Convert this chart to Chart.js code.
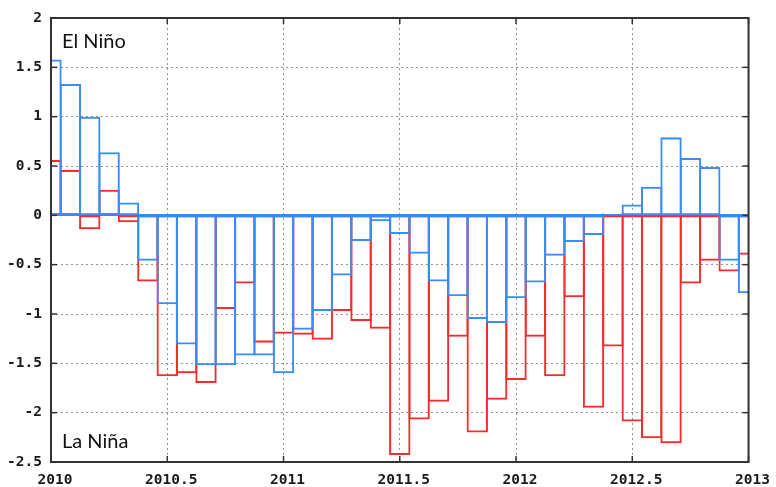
<!DOCTYPE html>
<html>
<head>
<meta charset="utf-8">
<style>
html, body { margin: 0; padding: 0; background: #fff; }
#wrap { width: 776px; height: 487px; }
</style>
</head>
<body>
<div id="wrap"><canvas id="ensoChart" width="776" height="487"></canvas></div>

<script src="https://cdn.jsdelivr.net/npm/chart.js@4.4.1/dist/chart.umd.min.js"></script>
<script>
// Monthly values, Jan 2010 .. Jan 2013
const months = [
    '2010-01','2010-02','2010-03','2010-04','2010-05','2010-06','2010-07','2010-08','2010-09','2010-10','2010-11','2010-12',
    '2011-01','2011-02','2011-03','2011-04','2011-05','2011-06','2011-07','2011-08','2011-09','2011-10','2011-11','2011-12',
    '2012-01','2012-02','2012-03','2012-04','2012-05','2012-06','2012-07','2012-08','2012-09','2012-10','2012-11','2012-12',
    '2013-01'
];
const blueValues = [
    1.57, 1.32, 0.99, 0.63, 0.12, -0.45, -0.89, -1.30, -1.51, -1.51, -1.41, -1.41,
    -1.59, -1.15, -0.96, -0.60, -0.25, -0.05, -0.18, -0.38, -0.66, -0.81, -1.04, -1.08,
    -0.83, -0.67, -0.40, -0.26, -0.19, 0.01, 0.10, 0.28, 0.78, 0.57, 0.48, -0.45,
    -0.78
];
const redValues = [
    0.55, 0.45, -0.13, 0.25, -0.06, -0.66, -1.62, -1.59, -1.69, -0.94, -0.68, -1.28,
    -1.19, -1.20, -1.25, -0.96, -1.06, -1.14, -2.42, -2.06, -1.88, -1.22, -2.19, -1.86,
    -1.66, -1.22, -1.62, -0.82, -1.94, -1.32, -2.08, -2.25, -2.30, -0.68, -0.45, -0.56,
    -0.39
];
const xTicks = [2010, 2010.5, 2011, 2011.5, 2012, 2012.5, 2013];
const yTicks = [-2.5, -2, -1.5, -1, -0.5, 0, 0.5, 1, 1.5, 2];

const BLUE = '#3a8cf6';
const RED = '#f52c2c';

// "2010-07" -> 2010.5
function toYear(m) {
    const [y, mo] = m.split('-').map(Number);
    return y + (mo - 1) / 12;
}
function toPoints(values) {
    return values.map((v, i) => ({ x: toYear(months[i]), y: v }));
}

// frame, inward ticks and the two labels
const framePlugin = {
    id: 'frame',
    afterDatasetsDraw(chart) {
        const { ctx, chartArea: a, scales: { x, y } } = chart;
        ctx.save();
        ctx.strokeStyle = '#333';
        ctx.lineWidth = 1.5;
        const seg = (x1, y1, x2, y2) => {
            ctx.beginPath(); ctx.moveTo(x1, y1); ctx.lineTo(x2, y2); ctx.stroke();
        };
        x.ticks.forEach(t => {
            const px = x.getPixelForValue(t.value);
            seg(px, a.bottom, px, a.bottom - 6);
            seg(px, a.top, px, a.top + 6);
        });
        y.ticks.forEach(t => {
            const py = y.getPixelForValue(t.value);
            seg(a.left, py, a.left + 6, py);
            seg(a.right, py, a.right - 6, py);
        });
        ctx.lineWidth = 2;
        ctx.strokeRect(a.left, a.top, a.right - a.left, a.bottom - a.top);

        ctx.fillStyle = '#111';
        ctx.font = '20px Lato';
        ctx.textBaseline = 'alphabetic';
        ctx.fillText('El Niño', a.left + 11, a.top + 30);
        ctx.fillText('La Niña', a.left + 11, a.bottom - 14);
        ctx.restore();
    }
};

const tickFont = { family: 'DejaVu Sans Mono', size: 14.5, weight: 'bold' };
const fmt = v => Number.isInteger(v) ? String(v) : v.toFixed(1);

// hairline border inflated by 1px on each side -> a 2px outline centred on the box edges
const barStyle = {
    backgroundColor: 'rgba(0,0,0,0)',
    borderWidth: 0.01,
    borderSkipped: false,
    inflateAmount: 1,
    barPercentage: 1,
    categoryPercentage: 1,
    grouped: false,
    clip: 0
};

new Chart(document.getElementById('ensoChart'), {
    type: 'bar',
    data: {
        datasets: [
            Object.assign({ label: 'blue', data: toPoints(blueValues), borderColor: BLUE }, barStyle),
            Object.assign({ label: 'red', data: toPoints(redValues), borderColor: RED }, barStyle)
        ]
    },
    options: {
        responsive: false,
        animation: false,
        devicePixelRatio: 1,
        layout: { padding: { left: 0, top: 18, right: 24, bottom: 0 } },
        plugins: { legend: { display: false }, tooltip: { enabled: false } },
        scales: {
            x: {
                type: 'linear',
                min: 2010,
                max: 2013,
                offset: false,
                afterBuildTicks: s => { s.ticks = xTicks.map(v => ({ value: v })); },
                afterFit: s => { s.height = 25; },
                ticks: {
                    font: tickFont,
                    color: '#1a1a1a',
                    padding: 10,
                    labelOffset: 4,
                    maxRotation: 0,
                    autoSkip: false,
                    callback: fmt
                },
                grid: { color: '#939393', lineWidth: 1, drawTicks: false, offset: false },
                border: { display: false, dash: [2, 3] }
            },
            y: {
                min: -2.5,
                max: 2,
                afterBuildTicks: s => { s.ticks = yTicks.map(v => ({ value: v })); },
                afterFit: s => { s.width = 51; },
                ticks: {
                    font: tickFont,
                    color: '#1a1a1a',
                    padding: 9,
                    callback: fmt
                },
                grid: {
                    color: c => (c.tick && c.tick.value === 0) ? BLUE : '#939393',
                    lineWidth: c => (c.tick && c.tick.value === 0) ? 2 : 1,
                    drawTicks: false
                },
                border: {
                    display: false,
                    dash: c => (c.tick && c.tick.value === 0) ? [] : [2, 3]
                }
            }
        }
    },
    plugins: [framePlugin]
});
</script>
</body>
</html>
